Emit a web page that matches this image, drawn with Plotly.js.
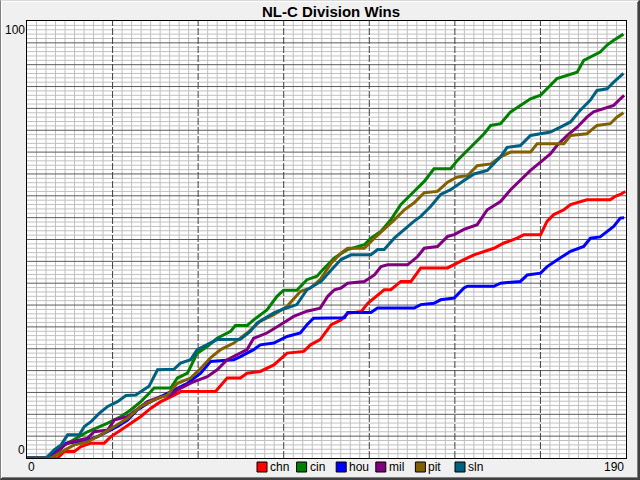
<!DOCTYPE html>
<html>
<head>
<meta charset="utf-8">
<script src="https://cdn.plot.ly/plotly-3.0.1.min.js"></script>
<style>
  html, body { margin: 0; padding: 0; background: #f0f0f0; }
  #wrap { position: relative; width: 640px; height: 480px; }
  #chart { position: absolute; left: 0; top: 0; width: 640px; height: 480px; }
  #frame {
    position: absolute; left: 0; top: 0; width: 640px; height: 480px;
    box-sizing: border-box; pointer-events: none;
    border-top: 1px solid #d8d8d8; border-left: 1px solid #808080;
    border-right: 2px solid #404040; border-bottom: 2px solid #404040;
    box-shadow: inset 1px 1px 0 #ffffff, inset -1px -1px 0 #808080;
  }
</style>
</head>
<body>
<div id="wrap">
  <div id="chart"></div>
  <div id="frame"></div>
</div>
<script>
// Teams and colours
const teams = ['chn', 'cin', 'hou', 'mil', 'pit', 'sln'];
const teamColors = ['#ff0000', '#008000', '#0000ff', '#800080', '#806000', '#006080'];

// Cumulative wins (day of season, wins)
const chnDay  = [0, 9.7, 11.9, 15.0, 17.1, 20.3, 24.5, 26.6, 29.8, 32.9, 36.1, 39.3, 42.4, 45.6, 48.8, 59.8, 63.5, 67.7, 69.8, 74.0, 78.3, 82.5, 87.8, 89.9, 93.0, 96.5, 99.6, 101.7, 106.0, 108.1, 110.2, 113.3, 115.4, 118.6, 121.8, 124.9, 133.4, 135.5, 138.6, 141.8, 145.0, 148.1, 151.3, 155.5, 157.6, 162.9, 165.0, 167.1, 170.3, 172.4, 177.6, 185.0, 186.6, 188.2, 189.8];
const chnWins = [0, 0, 1.5, 1.5, 2.6, 3.4, 3.4, 4.9, 6.4, 8, 9.5, 11.4, 12.9, 14, 15.2, 15.2, 18.3, 18.3, 19.4, 19.8, 21.3, 24, 24.4, 25.9, 27.1, 30.5, 31.6, 33.1, 33.5, 35.4, 36.6, 38.5, 38.5, 40.4, 40.4, 43.5, 43.5, 44.2, 45.4, 46.5, 47.3, 48, 49.2, 50.3, 51.1, 51.1, 54.2, 55.7, 56.8, 58, 59.1, 59.1, 59.9, 60.3, 61];

const cinDay  = [0, 6.6, 11.9, 19.2, 25.6, 29.8, 32.9, 36.1, 39.3, 40.3, 45.6, 47.7, 50.9, 54.0, 57.2, 60.3, 64.6, 66.1, 69.8, 71.9, 76.1, 79.3, 81.4, 85.6, 88.8, 92.0, 93.3, 97.5, 101.7, 107.0, 109.1, 112.3, 115.4, 118.6, 121.8, 126.0, 129.1, 134.4, 136.5, 140.7, 145.0, 147.1, 150.2, 153.4, 156.5, 159.7, 162.9, 165.0, 168.1, 174.5, 176.6, 181.8, 184.0, 186.1, 189.2];
const cinWins = [0, 0, 3, 6, 8, 9.5, 11, 12.9, 15.2, 16, 16, 18.3, 19.4, 24, 25.5, 27.4, 29, 30.3, 30.3, 31.6, 33.9, 37, 38.4, 38.4, 40.8, 41.6, 42.7, 45.8, 47.7, 48.8, 50.3, 51.9, 54.5, 58, 60.3, 63.3, 66.2, 66.2, 68.1, 71.1, 74.2, 76.1, 76.5, 79.2, 80.7, 82.2, 83, 84.5, 86.8, 88.3, 91, 92.9, 94.5, 95.6, 97];

const houDay  = [0, 6.6, 10.8, 12.4, 16.1, 19.2, 22.4, 25.6, 28.7, 31.9, 35.0, 38.2, 42.4, 46.6, 50.9, 55.1, 58.2, 65.6, 67.7, 71.9, 74.0, 78.3, 82.5, 86.7, 88.8, 90.9, 100.7, 101.7, 109.1, 111.2, 122.8, 124.9, 129.1, 131.2, 135.5, 138.6, 139.7, 148.1, 150.2, 156.5, 158.7, 162.9, 165.0, 169.2, 172.4, 176.6, 178.7, 181.8, 184.0, 186.1, 188.2, 189.4];
const houWins = [0, 0, 2.2, 3.4, 3.7, 4.1, 4.9, 6, 7.2, 8.7, 11, 12.5, 14, 15.6, 17.1, 19.4, 22.1, 22.5, 23.2, 24.8, 25.9, 26.3, 27.8, 28.6, 30.5, 32, 32.1, 33.3, 33.3, 34.3, 34.3, 35.1, 35.4, 36.2, 36.6, 38.9, 39.3, 39.3, 40, 40.4, 41.9, 42.3, 43.8, 45.8, 47.3, 48.4, 50.3, 50.6, 51.9, 53, 54.9, 55];

const milDay  = [0, 7.6, 11.9, 14.0, 19.2, 21.3, 25.6, 27.7, 31.9, 36.1, 38.2, 42.4, 45.6, 47.7, 53.0, 57.2, 60.3, 63.5, 67.7, 69.8, 71.9, 76.1, 80.4, 84.6, 88.8, 93.0, 95.4, 97.5, 99.6, 101.7, 107.0, 110.2, 112.3, 114.4, 120.7, 123.9, 126.0, 130.2, 133.4, 135.5, 138.6, 142.8, 146.0, 150.2, 153.4, 156.5, 159.7, 162.9, 166.0, 168.1, 171.3, 174.5, 177.6, 179.7, 182.9, 186.1, 188.2, 189.4];
const milWins = [0, 0, 3, 3.7, 4.5, 6, 6.4, 8.7, 9.5, 11.8, 12.9, 14, 14.4, 15.6, 17.5, 18.6, 20.2, 22.5, 24, 24.8, 27.4, 28.6, 30.5, 32.4, 33.6, 34.3, 37, 38.5, 38.9, 40, 40.4, 41.9, 43.8, 44.2, 44.2, 46.1, 48, 48.4, 50.7, 51.1, 52.3, 53.4, 56.8, 58.7, 61.4, 63.5, 65.8, 67.7, 69.6, 71.5, 73.8, 75.7, 78, 79.2, 79.9, 80.7, 82.2, 83];

const pitDay  = [0, 7.6, 11.9, 15.0, 19.2, 23.4, 27.7, 31.9, 36.1, 40.3, 44.5, 47.7, 51.9, 55.1, 58.2, 61.4, 65.6, 69.8, 74.0, 78.3, 82.5, 86.7, 89.9, 93.0, 96.5, 99.6, 101.7, 107.0, 110.2, 113.3, 116.5, 119.7, 122.8, 126.0, 130.2, 133.4, 136.5, 139.7, 142.8, 147.1, 150.2, 153.4, 159.7, 161.8, 170.3, 172.4, 177.6, 180.8, 185.0, 187.1, 189.2];
const pitWins = [0, 0, 1.8, 3, 3.7, 5.3, 7.2, 9.1, 11.8, 13.3, 14.4, 17.1, 18.3, 20.5, 22.9, 24.8, 26.3, 28.6, 31.3, 32.8, 34.7, 38.1, 38.9, 40.8, 44.6, 46.9, 48, 48, 50.3, 52.3, 54.5, 56.8, 58.4, 60.7, 61, 63.1, 64.3, 64.6, 66.9, 67.3, 68.9, 70, 70, 71.9, 71.9, 73.8, 74.2, 76.1, 76.5, 78, 79];

const slnDay  = [0, 6.05, 8.7, 10.8, 12.9, 16.6, 18.2, 20.3, 22.9, 25.6, 28.7, 31.4, 34.5, 36.1, 38.7, 41.4, 46.6, 48.7, 51.9, 54.0, 57.2, 60.3, 67.7, 70.9, 73.0, 78.3, 81.4, 85.6, 88.8, 93.3, 96.5, 99.6, 102.8, 109.1, 111.2, 113.3, 116.5, 119.6, 122.8, 124.9, 128.1, 131.2, 134.4, 138.6, 141.8, 146.0, 150.2, 152.3, 156.5, 159.7, 166.0, 169.2, 172.4, 175.5, 178.7, 180.8, 184.0, 186.1, 189.2];
const slnWins = [0, 0, 1.9, 3, 5.3, 5.3, 7.2, 8.3, 10.2, 11.8, 12.9, 14.3, 14.4, 15.2, 16.4, 20.2, 20.3, 21.7, 22.5, 24.8, 25.9, 27.1, 27.2, 29, 30.9, 33.2, 34.1, 35.1, 38.5, 40.4, 43, 45.4, 46.5, 46.5, 47.7, 47.7, 50.3, 52.3, 54.2, 55.3, 57.6, 60.3, 61.4, 63.5, 65, 65.8, 68.9, 71.1, 71.5, 73.8, 74.6, 75.7, 76.9, 79.6, 81.9, 84.1, 84.5, 86, 88];

const days = [chnDay, cinDay, houDay, milDay, pitDay, slnDay];
const wins = [chnWins, cinWins, houWins, milWins, pitWins, slnWins];

// plot area in pixels
const L = 27, R = 626, T = 21, B = 458;
const px = x => (x - L) / (R - L);
const py = y => (B - y) / (B - T);

const traces = teams.map((t, i) => ({
  x: days[i],
  y: wins[i],
  type: 'scatter',
  mode: 'lines',
  name: t,
  line: { color: teamColors[i], width: 3 },
  showlegend: false,
  hoverinfo: 'skip'
}));

// grid: light lines every 1 win / 190/63 days, dark every 5 wins / 190/7 days
const shapes = [];
const gridLine = (x0, x1, y0, y1, color, dash) => shapes.push({
  type: 'line', xref: 'x', yref: 'y', x0: x0, x1: x1, y0: y0, y1: y1,
  layer: 'below', line: { color: color, width: 1, dash: dash || 'solid' }
});
for (let i = 1; i < 63; i++) if (i % 9) gridLine(i * 190 / 63, i * 190 / 63, 0, 100, '#c0c0c0');
for (let j = 1; j < 100; j++) if (j % 5) gridLine(0, 190, j, j, '#c0c0c0');
for (let j = 5; j < 100; j += 5) gridLine(0, 190, j, j, '#5a5a5a');
for (let i = 1; i < 7; i++) gridLine(i * 190 / 7, i * 190 / 7, 0, 100, '#404040', '7px,2px');

const font = { family: 'Arial, Liberation Sans, sans-serif', size: 12, color: '#000' };

const annotations = [
  { text: '0', x: 0, y: 0, xref: 'paper', yref: 'paper', xanchor: 'left', yanchor: 'top', showarrow: false, font: font, xshift: -1 },
  { text: '190', x: 1, y: 0, xref: 'paper', yref: 'paper', xanchor: 'right', yanchor: 'top', showarrow: false, font: font },
  { text: '100', x: 0, y: 1, xref: 'paper', yref: 'paper', xanchor: 'right', yanchor: 'top', showarrow: false, font: font },
  { text: '0', x: 0, y: 0, xref: 'paper', yref: 'paper', xanchor: 'right', yanchor: 'bottom', showarrow: false, font: font, yshift: -1 }
];

// legend: coloured boxes with labels under the plot
teams.forEach((t, i) => {
  const x0 = 257 + i * 39.6;
  shapes.push({
    type: 'rect', xref: 'paper', yref: 'paper',
    x0: px(x0), x1: px(x0 + 10), y0: py(462), y1: py(472),
    fillcolor: teamColors[i], line: { color: '#000', width: 1 }
  });
  annotations.push({
    text: t, xref: 'paper', yref: 'paper', x: px(x0 + 11), y: py(467),
    xanchor: 'left', yanchor: 'middle', showarrow: false, font: font
  });
});

Plotly.newPlot('chart', traces, {
  width: 640,
  height: 480,
  title: {
    text: 'NL-C Division Wins',
    font: { family: 'Arial, Liberation Sans, sans-serif', size: 15, color: '#000', weight: 'bold' },
    x: 331 / 640, xref: 'container', xanchor: 'center',
    y: 1 - 12 / 480, yref: 'container', yanchor: 'middle'
  },
  margin: { l: L, r: 640 - R, t: T, b: 480 - B, pad: 0 },
  paper_bgcolor: '#f0f0f0',
  plot_bgcolor: '#ffffff',
  xaxis: {
    range: [0, 190],
    showticklabels: false,
    ticks: '',
    showgrid: false,
    zeroline: false,
    showline: true,
    linecolor: '#000',
    linewidth: 1,
    mirror: true
  },
  yaxis: {
    range: [0, 100],
    showticklabels: false,
    ticks: '',
    showgrid: false,
    zeroline: false,
    showline: true,
    linecolor: '#000',
    linewidth: 1,
    mirror: true
  },
  annotations: annotations,
  shapes: shapes,
  showlegend: false
}, { displayModeBar: false, staticPlot: true });
</script>
</body>
</html>
